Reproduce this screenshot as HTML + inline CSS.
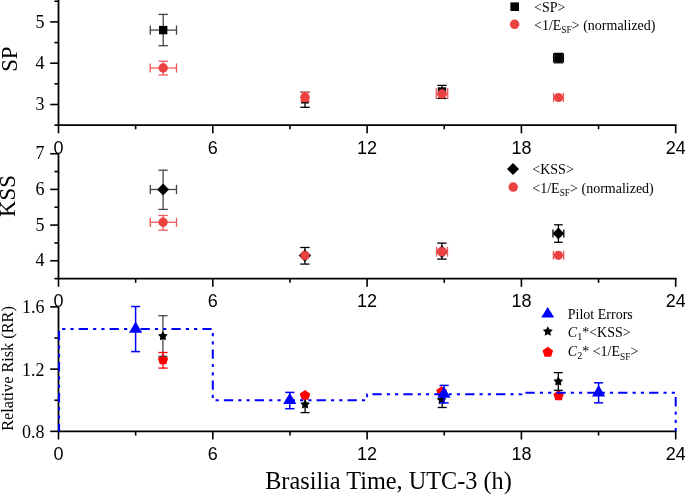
<!DOCTYPE html>
<html><head><meta charset="utf-8"><style>
html,body{margin:0;padding:0;background:#fff;}
body{width:685px;height:494px;overflow:hidden;}
svg{display:block;will-change:transform;}
</style></head><body>
<svg width="685" height="494" viewBox="0 0 685 494">
<rect width="685" height="494" fill="#fff"/>
<line x1="58.5" y1="-2" x2="58.5" y2="125.1" stroke="#000" stroke-width="1.8"/>
<line x1="50.2" y1="21.90" x2="58.5" y2="21.90" stroke="#000" stroke-width="1.6"/>
<line x1="50.2" y1="63.20" x2="58.5" y2="63.20" stroke="#000" stroke-width="1.6"/>
<line x1="50.2" y1="104.50" x2="58.5" y2="104.50" stroke="#000" stroke-width="1.6"/>
<line x1="54.4" y1="1.25" x2="58.5" y2="1.25" stroke="#000" stroke-width="1.6"/>
<line x1="54.4" y1="42.55" x2="58.5" y2="42.55" stroke="#000" stroke-width="1.6"/>
<line x1="54.4" y1="83.85" x2="58.5" y2="83.85" stroke="#000" stroke-width="1.6"/>
<line x1="54.4" y1="125.15" x2="58.5" y2="125.15" stroke="#000" stroke-width="1.6"/>
<text x="44.6" y="27.50" text-anchor="end" style="font-family:'Liberation Serif',serif;font-size:18px">5</text>
<text x="44.6" y="68.80" text-anchor="end" style="font-family:'Liberation Serif',serif;font-size:18px">4</text>
<text x="44.6" y="110.10" text-anchor="end" style="font-family:'Liberation Serif',serif;font-size:18px">3</text>
<line x1="57.6" y1="125.1" x2="676.6" y2="125.1" stroke="#000" stroke-width="1.8"/>
<line x1="58.50" y1="125.1" x2="58.50" y2="133.29999999999998" stroke="#000" stroke-width="1.6"/>
<line x1="212.80" y1="125.1" x2="212.80" y2="133.29999999999998" stroke="#000" stroke-width="1.6"/>
<line x1="367.10" y1="125.1" x2="367.10" y2="133.29999999999998" stroke="#000" stroke-width="1.6"/>
<line x1="521.40" y1="125.1" x2="521.40" y2="133.29999999999998" stroke="#000" stroke-width="1.6"/>
<line x1="675.70" y1="125.1" x2="675.70" y2="133.29999999999998" stroke="#000" stroke-width="1.6"/>
<line x1="135.65" y1="125.1" x2="135.65" y2="129.29999999999998" stroke="#000" stroke-width="1.6"/>
<line x1="289.95" y1="125.1" x2="289.95" y2="129.29999999999998" stroke="#000" stroke-width="1.6"/>
<line x1="444.25" y1="125.1" x2="444.25" y2="129.29999999999998" stroke="#000" stroke-width="1.6"/>
<line x1="598.55" y1="125.1" x2="598.55" y2="129.29999999999998" stroke="#000" stroke-width="1.6"/>
<text x="58.50" y="153.6" text-anchor="middle" style="font-family:'Liberation Sans',sans-serif;font-size:18px">0</text>
<text x="212.80" y="153.6" text-anchor="middle" style="font-family:'Liberation Sans',sans-serif;font-size:18px">6</text>
<text x="367.10" y="153.6" text-anchor="middle" style="font-family:'Liberation Sans',sans-serif;font-size:18px">12</text>
<text x="521.40" y="153.6" text-anchor="middle" style="font-family:'Liberation Sans',sans-serif;font-size:18px">18</text>
<text x="675.70" y="153.6" text-anchor="middle" style="font-family:'Liberation Sans',sans-serif;font-size:18px">24</text>
<line x1="163.20" y1="14.40" x2="163.20" y2="45.70" stroke="#444" stroke-width="1.3"/>
<line x1="158.50" y1="14.40" x2="167.90" y2="14.40" stroke="#444" stroke-width="1.3"/>
<line x1="158.50" y1="45.70" x2="167.90" y2="45.70" stroke="#444" stroke-width="1.3"/>
<line x1="150.30" y1="30.10" x2="176.50" y2="30.10" stroke="#444" stroke-width="1.3"/>
<line x1="150.30" y1="25.50" x2="150.30" y2="34.70" stroke="#444" stroke-width="1.3"/>
<line x1="176.50" y1="25.50" x2="176.50" y2="34.70" stroke="#444" stroke-width="1.3"/>
<rect x="159.00" y="25.90" width="8.4" height="8.4" fill="#000"/>
<line x1="163.20" y1="61.20" x2="163.20" y2="74.90" stroke="#ee5a5a" stroke-width="1.3"/>
<line x1="158.50" y1="61.20" x2="167.90" y2="61.20" stroke="#ee5a5a" stroke-width="1.3"/>
<line x1="158.50" y1="74.90" x2="167.90" y2="74.90" stroke="#ee5a5a" stroke-width="1.3"/>
<line x1="150.30" y1="68.00" x2="176.50" y2="68.00" stroke="#ee5a5a" stroke-width="1.3"/>
<line x1="150.30" y1="63.40" x2="150.30" y2="72.60" stroke="#ee5a5a" stroke-width="1.3"/>
<line x1="176.50" y1="63.40" x2="176.50" y2="72.60" stroke="#ee5a5a" stroke-width="1.3"/>
<circle cx="163.20" cy="68.00" r="4.7" fill="#ec4141"/>
<line x1="305.00" y1="92.30" x2="305.00" y2="107.30" stroke="#000" stroke-width="1.3"/>
<line x1="300.30" y1="92.30" x2="309.70" y2="92.30" stroke="#000" stroke-width="1.3"/>
<line x1="300.30" y1="107.30" x2="309.70" y2="107.30" stroke="#000" stroke-width="1.3"/>
<rect x="301.10" y="95.70" width="7.8" height="7.8" fill="#000"/>
<line x1="305.00" y1="92.50" x2="305.00" y2="101.50" stroke="#ee5a5a" stroke-width="1.3"/>
<line x1="300.30" y1="92.50" x2="309.70" y2="92.50" stroke="#ee5a5a" stroke-width="1.3"/>
<line x1="300.30" y1="101.50" x2="309.70" y2="101.50" stroke="#ee5a5a" stroke-width="1.3"/>
<circle cx="305.00" cy="97.30" r="4.8" fill="#ec4141"/>
<line x1="442.00" y1="85.40" x2="442.00" y2="98.40" stroke="#000" stroke-width="1.3"/>
<line x1="437.30" y1="85.40" x2="446.70" y2="85.40" stroke="#000" stroke-width="1.3"/>
<line x1="437.30" y1="98.40" x2="446.70" y2="98.40" stroke="#000" stroke-width="1.3"/>
<rect x="437.80" y="87.30" width="8.4" height="8.4" fill="#000"/>
<line x1="436.30" y1="93.50" x2="447.70" y2="93.50" stroke="#ee5a5a" stroke-width="1.3"/>
<line x1="436.30" y1="88.00" x2="436.30" y2="99.00" stroke="#ee5a5a" stroke-width="1.3"/>
<line x1="447.70" y1="88.00" x2="447.70" y2="99.00" stroke="#ee5a5a" stroke-width="1.3"/>
<circle cx="442.00" cy="94.00" r="4.7" fill="#ec4141"/>
<line x1="558.50" y1="53.40" x2="558.50" y2="62.80" stroke="#000" stroke-width="1.3"/>
<line x1="553.80" y1="53.40" x2="563.20" y2="53.40" stroke="#000" stroke-width="1.3"/>
<line x1="553.80" y1="62.80" x2="563.20" y2="62.80" stroke="#000" stroke-width="1.3"/>
<line x1="553.60" y1="58.00" x2="563.40" y2="58.00" stroke="#000" stroke-width="1.3"/>
<line x1="553.60" y1="53.40" x2="553.60" y2="62.60" stroke="#000" stroke-width="1.3"/>
<line x1="563.40" y1="53.40" x2="563.40" y2="62.60" stroke="#000" stroke-width="1.3"/>
<rect x="554.20" y="53.70" width="8.6" height="8.6" fill="#000"/>
<line x1="553.60" y1="97.50" x2="563.40" y2="97.50" stroke="#ee5a5a" stroke-width="1.3"/>
<line x1="553.60" y1="92.90" x2="553.60" y2="102.10" stroke="#ee5a5a" stroke-width="1.3"/>
<line x1="563.40" y1="92.90" x2="563.40" y2="102.10" stroke="#ee5a5a" stroke-width="1.3"/>
<circle cx="558.50" cy="97.50" r="4.6" fill="#ec4141"/>
<rect x="510.40" y="2.40" width="8.6" height="8.6" fill="#000"/>
<circle cx="514.60" cy="24.30" r="4.75" fill="#ec4141"/>
<text x="534.0" y="12.0" style="font-family:'Liberation Serif',serif;font-size:14px">&lt;SP&gt;</text>
<text x="534.0" y="29.6" style="font-family:'Liberation Serif',serif;font-size:14px">&lt;1/E<tspan dy="3.8" style="font-size:9.4px">SF</tspan><tspan dy="-3.8">&gt; (normalized)</tspan></text>
<text transform="translate(16.7 59.2) rotate(-90)" text-anchor="middle" style="font-family:'Liberation Serif',serif;font-size:22.8px">SP</text>
<line x1="58.5" y1="153.75" x2="58.5" y2="278.6" stroke="#000" stroke-width="1.8"/>
<line x1="50.2" y1="153.75" x2="58.5" y2="153.75" stroke="#000" stroke-width="1.6"/>
<line x1="50.2" y1="189.42" x2="58.5" y2="189.42" stroke="#000" stroke-width="1.6"/>
<line x1="50.2" y1="225.09" x2="58.5" y2="225.09" stroke="#000" stroke-width="1.6"/>
<line x1="50.2" y1="260.76" x2="58.5" y2="260.76" stroke="#000" stroke-width="1.6"/>
<line x1="54.4" y1="171.59" x2="58.5" y2="171.59" stroke="#000" stroke-width="1.6"/>
<line x1="54.4" y1="207.25" x2="58.5" y2="207.25" stroke="#000" stroke-width="1.6"/>
<line x1="54.4" y1="242.93" x2="58.5" y2="242.93" stroke="#000" stroke-width="1.6"/>
<line x1="54.4" y1="278.60" x2="58.5" y2="278.60" stroke="#000" stroke-width="1.6"/>
<text x="44.6" y="159.35" text-anchor="end" style="font-family:'Liberation Serif',serif;font-size:18px">7</text>
<text x="44.6" y="195.02" text-anchor="end" style="font-family:'Liberation Serif',serif;font-size:18px">6</text>
<text x="44.6" y="230.69" text-anchor="end" style="font-family:'Liberation Serif',serif;font-size:18px">5</text>
<text x="44.6" y="266.36" text-anchor="end" style="font-family:'Liberation Serif',serif;font-size:18px">4</text>
<line x1="57.6" y1="278.6" x2="676.6" y2="278.6" stroke="#000" stroke-width="1.8"/>
<line x1="58.50" y1="278.6" x2="58.50" y2="286.8" stroke="#000" stroke-width="1.6"/>
<line x1="212.80" y1="278.6" x2="212.80" y2="286.8" stroke="#000" stroke-width="1.6"/>
<line x1="367.10" y1="278.6" x2="367.10" y2="286.8" stroke="#000" stroke-width="1.6"/>
<line x1="521.40" y1="278.6" x2="521.40" y2="286.8" stroke="#000" stroke-width="1.6"/>
<line x1="675.70" y1="278.6" x2="675.70" y2="286.8" stroke="#000" stroke-width="1.6"/>
<line x1="135.65" y1="278.6" x2="135.65" y2="282.8" stroke="#000" stroke-width="1.6"/>
<line x1="289.95" y1="278.6" x2="289.95" y2="282.8" stroke="#000" stroke-width="1.6"/>
<line x1="444.25" y1="278.6" x2="444.25" y2="282.8" stroke="#000" stroke-width="1.6"/>
<line x1="598.55" y1="278.6" x2="598.55" y2="282.8" stroke="#000" stroke-width="1.6"/>
<text x="58.50" y="306.8" text-anchor="middle" style="font-family:'Liberation Sans',sans-serif;font-size:18px">0</text>
<text x="212.80" y="306.8" text-anchor="middle" style="font-family:'Liberation Sans',sans-serif;font-size:18px">6</text>
<text x="367.10" y="306.8" text-anchor="middle" style="font-family:'Liberation Sans',sans-serif;font-size:18px">12</text>
<text x="521.40" y="306.8" text-anchor="middle" style="font-family:'Liberation Sans',sans-serif;font-size:18px">18</text>
<text x="675.70" y="306.8" text-anchor="middle" style="font-family:'Liberation Sans',sans-serif;font-size:18px">24</text>
<line x1="163.10" y1="170.20" x2="163.10" y2="209.40" stroke="#444" stroke-width="1.3"/>
<line x1="158.40" y1="170.20" x2="167.80" y2="170.20" stroke="#444" stroke-width="1.3"/>
<line x1="158.40" y1="209.40" x2="167.80" y2="209.40" stroke="#444" stroke-width="1.3"/>
<line x1="150.30" y1="189.50" x2="176.50" y2="189.50" stroke="#444" stroke-width="1.3"/>
<line x1="150.30" y1="184.90" x2="150.30" y2="194.10" stroke="#444" stroke-width="1.3"/>
<line x1="176.50" y1="184.90" x2="176.50" y2="194.10" stroke="#444" stroke-width="1.3"/>
<path d="M163.10 183.60L169.00 189.50L163.10 195.40L157.20 189.50Z" fill="#000"/>
<line x1="163.10" y1="215.50" x2="163.10" y2="230.20" stroke="#ee5a5a" stroke-width="1.3"/>
<line x1="158.40" y1="215.50" x2="167.80" y2="215.50" stroke="#ee5a5a" stroke-width="1.3"/>
<line x1="158.40" y1="230.20" x2="167.80" y2="230.20" stroke="#ee5a5a" stroke-width="1.3"/>
<line x1="150.30" y1="222.30" x2="176.50" y2="222.30" stroke="#ee5a5a" stroke-width="1.3"/>
<line x1="150.30" y1="217.70" x2="150.30" y2="226.90" stroke="#ee5a5a" stroke-width="1.3"/>
<line x1="176.50" y1="217.70" x2="176.50" y2="226.90" stroke="#ee5a5a" stroke-width="1.3"/>
<circle cx="163.10" cy="222.30" r="4.7" fill="#ec4141"/>
<line x1="304.90" y1="247.50" x2="304.90" y2="264.10" stroke="#000" stroke-width="1.3"/>
<line x1="300.20" y1="247.50" x2="309.60" y2="247.50" stroke="#000" stroke-width="1.3"/>
<line x1="300.20" y1="264.10" x2="309.60" y2="264.10" stroke="#000" stroke-width="1.3"/>
<path d="M304.90 249.40L311.10 255.60L304.90 261.80L298.70 255.60Z" fill="#000"/>
<circle cx="304.90" cy="255.60" r="4.6" fill="#ec4141"/>
<line x1="441.90" y1="243.10" x2="441.90" y2="259.10" stroke="#000" stroke-width="1.3"/>
<line x1="437.20" y1="243.10" x2="446.60" y2="243.10" stroke="#000" stroke-width="1.3"/>
<line x1="437.20" y1="259.10" x2="446.60" y2="259.10" stroke="#000" stroke-width="1.3"/>
<path d="M441.90 245.40L448.20 251.70L441.90 258.00L435.60 251.70Z" fill="#000"/>
<line x1="436.60" y1="251.70" x2="447.50" y2="251.70" stroke="#ee5a5a" stroke-width="1.3"/>
<line x1="436.60" y1="246.70" x2="436.60" y2="256.70" stroke="#ee5a5a" stroke-width="1.3"/>
<line x1="447.50" y1="246.70" x2="447.50" y2="256.70" stroke="#ee5a5a" stroke-width="1.3"/>
<circle cx="441.90" cy="251.70" r="4.8" fill="#ec4141"/>
<line x1="558.40" y1="224.80" x2="558.40" y2="242.30" stroke="#000" stroke-width="1.3"/>
<line x1="554.10" y1="224.80" x2="562.70" y2="224.80" stroke="#000" stroke-width="1.3"/>
<line x1="554.10" y1="242.30" x2="562.70" y2="242.30" stroke="#000" stroke-width="1.3"/>
<line x1="553.00" y1="233.40" x2="563.80" y2="233.40" stroke="#000" stroke-width="1.3"/>
<line x1="553.00" y1="229.40" x2="553.00" y2="237.40" stroke="#000" stroke-width="1.3"/>
<line x1="563.80" y1="229.40" x2="563.80" y2="237.40" stroke="#000" stroke-width="1.3"/>
<path d="M558.40 227.60L564.20 233.40L558.40 239.20L552.60 233.40Z" fill="#000"/>
<line x1="553.40" y1="255.30" x2="563.70" y2="255.30" stroke="#ee5a5a" stroke-width="1.3"/>
<line x1="553.40" y1="250.80" x2="553.40" y2="259.80" stroke="#ee5a5a" stroke-width="1.3"/>
<line x1="563.70" y1="250.80" x2="563.70" y2="259.80" stroke="#ee5a5a" stroke-width="1.3"/>
<circle cx="558.40" cy="255.30" r="4.6" fill="#ec4141"/>
<path d="M513.00 163.10L519.00 169.10L513.00 175.10L507.00 169.10Z" fill="#000"/>
<circle cx="513.20" cy="187.10" r="4.75" fill="#ec4141"/>
<text x="532.3" y="173.8" style="font-family:'Liberation Serif',serif;font-size:14px">&lt;KSS&gt;</text>
<text x="532.3" y="192.6" style="font-family:'Liberation Serif',serif;font-size:14px">&lt;1/E<tspan dy="3.8" style="font-size:9.4px">SF</tspan><tspan dy="-3.8">&gt; (normalized)</tspan></text>
<text transform="translate(14.9 196.1) rotate(-90)" text-anchor="middle" style="font-family:'Liberation Serif',serif;font-size:22.8px">KSS</text>
<line x1="58.5" y1="306.87" x2="58.5" y2="431.35" stroke="#000" stroke-width="1.8"/>
<line x1="50.2" y1="306.87" x2="58.5" y2="306.87" stroke="#000" stroke-width="1.6"/>
<line x1="50.2" y1="369.11" x2="58.5" y2="369.11" stroke="#000" stroke-width="1.6"/>
<line x1="50.2" y1="431.35" x2="58.5" y2="431.35" stroke="#000" stroke-width="1.6"/>
<line x1="54.4" y1="337.99" x2="58.5" y2="337.99" stroke="#000" stroke-width="1.6"/>
<line x1="54.4" y1="400.23" x2="58.5" y2="400.23" stroke="#000" stroke-width="1.6"/>
<text x="44.4" y="313.27" text-anchor="end" style="font-family:'Liberation Serif',serif;font-size:18px">1.6</text>
<text x="44.4" y="375.51" text-anchor="end" style="font-family:'Liberation Serif',serif;font-size:18px">1.2</text>
<text x="44.4" y="437.75" text-anchor="end" style="font-family:'Liberation Serif',serif;font-size:18px">0.8</text>
<line x1="57.6" y1="431.35" x2="676.6" y2="431.35" stroke="#000" stroke-width="1.8"/>
<line x1="58.50" y1="431.35" x2="58.50" y2="439.55" stroke="#000" stroke-width="1.6"/>
<line x1="212.80" y1="431.35" x2="212.80" y2="439.55" stroke="#000" stroke-width="1.6"/>
<line x1="367.10" y1="431.35" x2="367.10" y2="439.55" stroke="#000" stroke-width="1.6"/>
<line x1="521.40" y1="431.35" x2="521.40" y2="439.55" stroke="#000" stroke-width="1.6"/>
<line x1="675.70" y1="431.35" x2="675.70" y2="439.55" stroke="#000" stroke-width="1.6"/>
<line x1="135.65" y1="431.35" x2="135.65" y2="435.55" stroke="#000" stroke-width="1.6"/>
<line x1="289.95" y1="431.35" x2="289.95" y2="435.55" stroke="#000" stroke-width="1.6"/>
<line x1="444.25" y1="431.35" x2="444.25" y2="435.55" stroke="#000" stroke-width="1.6"/>
<line x1="598.55" y1="431.35" x2="598.55" y2="435.55" stroke="#000" stroke-width="1.6"/>
<text x="58.50" y="460.0" text-anchor="middle" style="font-family:'Liberation Sans',sans-serif;font-size:18px">0</text>
<text x="212.80" y="460.0" text-anchor="middle" style="font-family:'Liberation Sans',sans-serif;font-size:18px">6</text>
<text x="367.10" y="460.0" text-anchor="middle" style="font-family:'Liberation Sans',sans-serif;font-size:18px">12</text>
<text x="521.40" y="460.0" text-anchor="middle" style="font-family:'Liberation Sans',sans-serif;font-size:18px">18</text>
<text x="675.70" y="460.0" text-anchor="middle" style="font-family:'Liberation Sans',sans-serif;font-size:18px">24</text>
<line x1="135.60" y1="306.50" x2="135.60" y2="351.60" stroke="#0000ff" stroke-width="1.5"/>
<line x1="131.10" y1="306.50" x2="140.10" y2="306.50" stroke="#0000ff" stroke-width="1.5"/>
<line x1="131.10" y1="351.60" x2="140.10" y2="351.60" stroke="#0000ff" stroke-width="1.5"/>
<path d="M135.60 321.50L142.20 332.80L129.00 332.80Z" fill="#0000ff"/>
<polygon points="163.00,354.60 168.14,358.33 166.17,364.37 159.83,364.37 157.86,358.33" fill="#ff0000"/>
<line x1="162.90" y1="315.70" x2="162.90" y2="356.40" stroke="#444" stroke-width="1.3"/>
<line x1="158.30" y1="315.70" x2="167.50" y2="315.70" stroke="#444" stroke-width="1.3"/>
<line x1="158.30" y1="356.40" x2="167.50" y2="356.40" stroke="#444" stroke-width="1.3"/>
<line x1="163.00" y1="352.50" x2="163.00" y2="368.10" stroke="#ff0000" stroke-width="1.3"/>
<line x1="158.40" y1="352.50" x2="167.60" y2="352.50" stroke="#ff0000" stroke-width="1.3"/>
<line x1="158.40" y1="368.10" x2="167.60" y2="368.10" stroke="#ff0000" stroke-width="1.3"/>
<polygon points="162.90,331.10 164.55,333.93 167.75,334.62 165.56,337.07 165.90,340.33 162.90,339.00 159.90,340.33 160.24,337.07 158.05,334.62 161.25,333.93" fill="#000"/>
<line x1="289.80" y1="392.40" x2="289.80" y2="408.70" stroke="#0000ff" stroke-width="1.5"/>
<line x1="285.15" y1="392.40" x2="294.45" y2="392.40" stroke="#0000ff" stroke-width="1.5"/>
<line x1="285.15" y1="408.70" x2="294.45" y2="408.70" stroke="#0000ff" stroke-width="1.5"/>
<path d="M289.80 392.70L296.40 404.10L283.20 404.10Z" fill="#0000ff"/>
<line x1="305.10" y1="395.60" x2="305.10" y2="412.60" stroke="#000" stroke-width="1.3"/>
<line x1="300.60" y1="395.60" x2="309.60" y2="395.60" stroke="#000" stroke-width="1.3"/>
<line x1="300.60" y1="412.60" x2="309.60" y2="412.60" stroke="#000" stroke-width="1.3"/>
<polygon points="305.00,389.90 310.23,393.70 308.23,399.85 301.77,399.85 299.77,393.70" fill="#ff0000"/>
<polygon points="305.10,399.30 306.75,402.13 309.95,402.82 307.76,405.27 308.10,408.53 305.10,407.20 302.10,408.53 302.44,405.27 300.25,402.82 303.45,402.13" fill="#000"/>
<line x1="442.20" y1="393.00" x2="442.20" y2="407.50" stroke="#000" stroke-width="1.3"/>
<line x1="437.65" y1="393.00" x2="446.75" y2="393.00" stroke="#000" stroke-width="1.3"/>
<line x1="437.65" y1="407.50" x2="446.75" y2="407.50" stroke="#000" stroke-width="1.3"/>
<polygon points="441.50,386.30 446.73,390.10 444.73,396.25 438.27,396.25 436.27,390.10" fill="#ff0000"/>
<polygon points="441.60,394.90 443.25,397.73 446.45,398.42 444.26,400.87 444.60,404.13 441.60,402.80 438.60,404.13 438.94,400.87 436.75,398.42 439.95,397.73" fill="#000"/>
<line x1="444.10" y1="385.40" x2="444.10" y2="402.90" stroke="#0000ff" stroke-width="1.5"/>
<line x1="439.50" y1="385.40" x2="448.70" y2="385.40" stroke="#0000ff" stroke-width="1.5"/>
<line x1="439.50" y1="402.90" x2="448.70" y2="402.90" stroke="#0000ff" stroke-width="1.5"/>
<path d="M444.00 386.50L450.60 397.80L437.40 397.80Z" fill="#0000ff"/>
<polygon points="558.60,390.30 563.83,394.10 561.83,400.25 555.37,400.25 553.37,394.10" fill="#ff0000"/>
<line x1="558.30" y1="372.60" x2="558.30" y2="390.30" stroke="#000" stroke-width="1.3"/>
<line x1="553.80" y1="372.60" x2="562.80" y2="372.60" stroke="#000" stroke-width="1.3"/>
<line x1="553.80" y1="390.30" x2="562.80" y2="390.30" stroke="#000" stroke-width="1.3"/>
<polygon points="558.30,376.30 559.95,379.13 563.15,379.82 560.96,382.27 561.30,385.53 558.30,384.20 555.30,385.53 555.64,382.27 553.45,379.82 556.65,379.13" fill="#000"/>
<line x1="598.60" y1="382.80" x2="598.60" y2="402.80" stroke="#0000ff" stroke-width="1.5"/>
<line x1="594.10" y1="382.80" x2="603.10" y2="382.80" stroke="#0000ff" stroke-width="1.5"/>
<line x1="594.10" y1="402.80" x2="603.10" y2="402.80" stroke="#0000ff" stroke-width="1.5"/>
<path d="M598.60 385.10L605.20 396.60L592.00 396.60Z" fill="#0000ff"/>
<path d="M59.1 431.35 L59.1 329.1 L212.80 329.1 L212.80 400.3 L367.10 400.3 L367.10 394.3 L521.40 394.3 L521.40 392.8 L675.70 392.8 L675.70 431.35" fill="none" stroke="#0000ff" stroke-width="2" stroke-dasharray="9.3 5.07 3.2 5.07 3.2 5.07" stroke-dashoffset="1.8"/>
<path d="M547.70 306.90L554.20 317.60L541.20 317.60Z" fill="#0000ff"/>
<polygon points="547.80,326.20 549.36,329.36 552.84,329.86 550.32,332.32 550.92,335.79 547.80,334.15 544.68,335.79 545.28,332.32 542.76,329.86 546.24,329.36" fill="#000"/>
<polygon points="547.80,346.65 553.08,350.48 551.06,356.69 544.54,356.69 542.52,350.48" fill="#ff0000"/>
<text x="567.8" y="318.7" style="font-family:'Liberation Serif',serif;font-size:14px">Pilot Errors</text>
<text x="567.8" y="336.8" style="font-family:'Liberation Serif',serif;font-size:14px"><tspan style="font-style:italic">C</tspan><tspan dy="3.4" style="font-size:10px">1</tspan><tspan dy="-3.4">*&lt;KSS&gt;</tspan></text>
<text x="567.8" y="356.0" style="font-family:'Liberation Serif',serif;font-size:14px"><tspan style="font-style:italic">C</tspan><tspan dy="3.4" style="font-size:10px">2</tspan><tspan dy="-3.4">* &lt;1/E</tspan><tspan dy="3.8" style="font-size:9.4px">SF</tspan><tspan dy="-3.8">&gt;</tspan></text>
<text transform="translate(13.1 368.5) rotate(-90)" text-anchor="middle" style="font-family:'Liberation Serif',serif;font-size:16.25px">Relative Risk (RR)</text>
<text x="265.2" y="488.6" style="font-family:'Liberation Serif',serif;font-size:24.25px">Brasilia Time, UTC-3 (h)</text>
</svg>
</body></html>
